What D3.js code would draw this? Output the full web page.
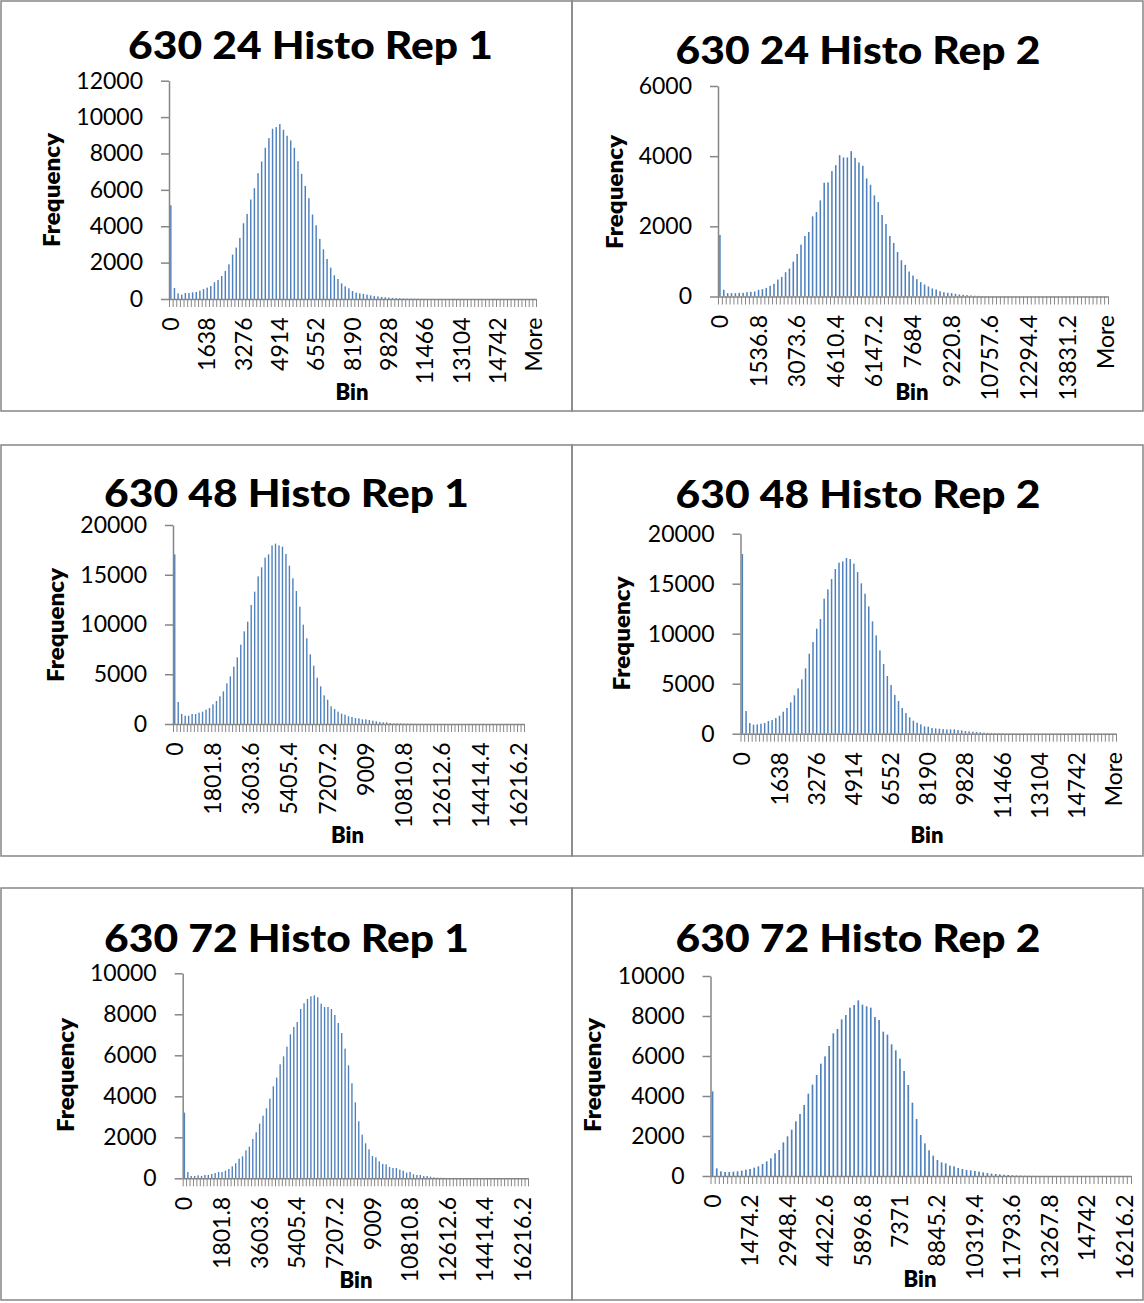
<!DOCTYPE html>
<html>
<head>
<meta charset="utf-8">
<script src="https://cdn.jsdelivr.net/npm/d3@7"></script>
<style>
  body { margin: 0; background: #fff; }
  text { font-family: Lato, "Open Sans", sans-serif; fill: #000; }
</style>
</head>
<body>
<svg id="chart" width="1144" height="1303"></svg>
<script>
// ---- Chart titles ----
const titles = [
  "630 24 Histo Rep 1", "630 24 Histo Rep 2",
  "630 48 Histo Rep 1", "630 48 Histo Rep 2",
  "630 72 Histo Rep 1", "630 72 Histo Rep 2"
];

// ---- Histogram bin widths (Excel bin upper edges are i * width, then "More") ----
const binWidths = [163.8, 153.68, 163.8, 163.8, 163.8, 163.8];
const binCount = 100;

// ---- Category labels shown on each x axis ----
const xTicks24r1 = ["0","1638","3276","4914","6552","8190","9828","11466","13104","14742","More"];
const xTicks24r2 = ["0","1536.8","3073.6","4610.4","6147.2","7684","9220.8","10757.6","12294.4","13831.2","More"];
const xTicks48r1 = ["0","1801.8","3603.6","5405.4","7207.2","9009","10810.8","12612.6","14414.4","16216.2"];
const xTicks48r2 = ["0","1638","3276","4914","6552","8190","9828","11466","13104","14742","More"];
const xTicks72r1 = ["0","1801.8","3603.6","5405.4","7207.2","9009","10810.8","12612.6","14414.4","16216.2"];
const xTicks72r2 = ["0","1474.2","2948.4","4422.6","5896.8","7371","8845.2","10319.4","11793.6","13267.8","14742","16216.2"];

// ---- Frequency axis ticks ----
const yTicks24r1 = [0, 2000, 4000, 6000, 8000, 10000, 12000];
const yTicks24r2 = [0, 2000, 4000, 6000];
const yTicks48r1 = [0, 5000, 10000, 15000, 20000];
const yTicks48r2 = [0, 5000, 10000, 15000, 20000];
const yTicks72r1 = [0, 2000, 4000, 6000, 8000, 10000];
const yTicks72r2 = [0, 2000, 4000, 6000, 8000, 10000];

// ---- Frequencies per bin (101 categories: 100 bins + "More") ----
const freq24r1 = [
  5150, 605, 312, 240, 330, 330, 367, 385, 459, 550,
  624, 716, 918, 1046, 1266, 1541, 1908, 2440, 2826, 3358,
  4165, 4679, 5468, 6092, 6918, 7560, 8312, 8845, 9358, 9450,
  9615, 9303, 8973, 8716, 8312, 7578, 6881, 6220, 5542, 4643,
  4055, 3303, 2734, 2202, 1725, 1303, 1101, 862, 697, 587,
  440, 349, 312, 280, 240, 200, 170, 140, 115, 95,
  75, 60, 48, 38, 30, 24, 18, 14, 10, 8,
  6, 5, 4, 3, 2, 2, 1, 1, 1, 0,
  0, 0, 0, 0, 0, 0, 0, 0, 0, 0,
  0, 0, 0, 0, 0, 0, 0, 0, 0, 0,
  0
];
const freq24r2 = [
  1754, 190, 95, 95, 95, 104, 104, 123, 133, 142,
  190, 209, 246, 303, 360, 483, 559, 692, 796, 995,
  1213, 1479, 1725, 1839, 2285, 2408, 2740, 3242, 3252, 3574,
  3745, 4029, 3963, 3963, 4143, 3953, 3820, 3726, 3365, 3185,
  2882, 2692, 2323, 2067, 1725, 1526, 1270, 1033, 900, 711,
  597, 495, 410, 343, 286, 229, 200, 150, 120, 105,
  95, 76, 57, 48, 38, 29, 22, 18, 12, 9,
  7, 5, 4, 3, 2, 2, 1, 1, 0, 0,
  0, 0, 0, 0, 0, 0, 0, 0, 0, 0,
  0, 0, 0, 0, 0, 0, 0, 0, 0, 0,
  0
];
const freq48r1 = [
  17050, 2211, 1005, 838, 838, 1005, 1005, 1139, 1240, 1441,
  1608, 1977, 2312, 2781, 3283, 4087, 4791, 5762, 6700, 7973,
  9313, 10285, 11960, 13300, 14841, 15745, 16717, 17052, 17956, 18124,
  17956, 17822, 17085, 15913, 14640, 13367, 11792, 9983, 8610, 7002,
  5863, 4657, 3786, 2881, 2446, 1776, 1508, 1240, 1039, 938,
  771, 704, 603, 570, 469, 469, 402, 335, 268, 201,
  168, 168, 100, 67, 67, 55, 45, 38, 30, 25,
  20, 15, 12, 9, 7, 5, 4, 3, 2, 2,
  1, 0, 0, 0, 0, 0, 0, 0, 0, 0,
  0, 0, 0, 0, 0, 0, 0, 0, 0, 0,
  0
];
const freq48r2 = [
  17960, 2267, 1067, 900, 933, 1000, 1067, 1267, 1367, 1567,
  1800, 2200, 2567, 3133, 3833, 4533, 5433, 6533, 8000, 9167,
  10500, 11467, 13500, 14433, 15467, 16467, 17100, 17233, 17567, 17467,
  17000, 16167, 15033, 14000, 12733, 11233, 9833, 8333, 6967, 5767,
  4867, 3867, 3267, 2567, 2067, 1633, 1300, 1100, 933, 733,
  700, 567, 533, 500, 467, 433, 433, 433, 367, 333,
  267, 230, 200, 170, 140, 110, 90, 75, 60, 50,
  40, 32, 25, 20, 15, 12, 10, 8, 6, 5,
  4, 3, 2, 2, 1, 0, 0, 0, 0, 0,
  0, 0, 0, 0, 0, 0, 0, 0, 0, 0,
  0
];
const freq72r1 = [
  3203, 309, 114, 114, 146, 114, 163, 163, 211, 260,
  309, 309, 374, 455, 585, 732, 959, 1073, 1366, 1545,
  1919, 2244, 2667, 3057, 3415, 3886, 4488, 4911, 5561, 5951,
  6423, 7024, 7382, 7626, 8260, 8537, 8748, 8878, 8927, 8829,
  8520, 8358, 8358, 8260, 7967, 7577, 7089, 6325, 5512, 4634,
  3707, 2780, 2130, 1707, 1415, 1089, 1024, 829, 699, 683,
  553, 504, 504, 423, 374, 276, 309, 195, 163, 163,
  114, 114, 81, 49, 33, 28, 22, 17, 12, 9,
  7, 5, 4, 3, 2, 1, 0, 0, 0, 0,
  0, 0, 0, 0, 0, 0, 0, 0, 0, 0,
  0
];
const freq72r2 = [
  4233, 383, 233, 200, 200, 217, 233, 267, 317, 350,
  417, 483, 600, 733, 883, 1133, 1300, 1683, 1983, 2317,
  2733, 3100, 3550, 4117, 4567, 5050, 5617, 5983, 6500, 7133,
  7350, 7833, 8050, 8417, 8550, 8783, 8567, 8483, 8417, 7950,
  7800, 7217, 7067, 6583, 6283, 5867, 5250, 4550, 3667, 2850,
  2050, 1633, 1283, 1017, 800, 683, 633, 517, 483, 400,
  350, 300, 280, 250, 220, 180, 150, 120, 100, 80,
  60, 50, 40, 30, 22, 16, 12, 8, 5, 4,
  3, 2, 1, 0, 0, 0, 0, 0, 0, 0,
  0, 0, 0, 0, 0, 0, 0, 0, 0, 0,
  0
];

// ---- Panel geometry (frame, plot area, and label anchors) ----
const panels = [
  { frame: [1, 1, 572, 411],   x0: 169,   x1: 536,  y0: 299,    yTop: 80.7,  titleX: 310.5, titleY: 59,
    freqX: 60,  freqY: 190,  binX: 352, binY: 400 },
  { frame: [572, 1, 1143, 411], x0: 718,  x1: 1108, y0: 296.5,  yTop: 86,    titleX: 858,   titleY: 64,
    freqX: 623, freqY: 192,  binX: 912, binY: 399.5 },
  { frame: [1, 445, 572, 856], x0: 173,   x1: 524,  y0: 724,    yTop: 525,   titleX: 286.5, titleY: 507,
    freqX: 64,  freqY: 625,  binX: 347.5, binY: 843 },
  { frame: [572, 445, 1143, 856], x0: 740.5, x1: 1116, y0: 733.7, yTop: 533.7, titleX: 858, titleY: 508,
    freqX: 630, freqY: 633.5, binX: 927, binY: 843 },
  { frame: [1, 888, 572, 1300], x0: 182.7, x1: 528,  y0: 1178.3, yTop: 973.3, titleX: 286.5, titleY: 952,
    freqX: 74,  freqY: 1075, binX: 356, binY: 1287.7 },
  { frame: [572, 888, 1143, 1300], x0: 710.5, x1: 1131, y0: 1176, yTop: 976, titleX: 858, titleY: 952,
    freqX: 601, freqY: 1075, binX: 920, binY: 1286.7 }
];

const series = [freq24r1, freq24r2, freq48r1, freq48r2, freq72r1, freq72r2];
const xTickSets = [xTicks24r1, xTicks24r2, xTicks48r1, xTicks48r2, xTicks72r1, xTicks72r2];
const yTickSets = [yTicks24r1, yTicks24r2, yTicks48r1, yTicks48r2, yTicks72r1, yTicks72r2];

const AXIS = "#868686";
const BAR = "#4F81BD";

function binLabels(width) {
  const labels = d3.range(binCount).map(i => String(+(i * width).toFixed(4)));
  labels.push("More");
  return labels;
}

const svg = d3.select("#chart");

panels.forEach((p, k) => {
  const values = series[k];
  const cats = binLabels(binWidths[k]);
  const yTicks = yTickSets[k];
  const g = svg.append("g");

  // chart frame
  const [fx0, fy0, fx1, fy1] = p.frame;
  g.append("rect")
    .attr("x", fx0).attr("y", fy0)
    .attr("width", fx1 - fx0).attr("height", fy1 - fy0)
    .attr("fill", "none").attr("stroke", AXIS).attr("stroke-width", 1.5);

  // scales
  const x = d3.scaleBand().domain(cats).range([p.x0, p.x1])
    .paddingInner(0.6).paddingOuter(0.3);
  const xEdges = d3.scaleLinear().domain([0, cats.length]).range([p.x0, p.x1]);
  const y = d3.scaleLinear().domain([0, d3.max(yTicks)]).range([p.y0, p.yTop]);

  // bars
  g.append("g").selectAll("rect")
    .data(values.map((v, i) => ({ cat: cats[i], v })))
    .join("rect")
    .attr("x", d => x(d.cat))
    .attr("width", x.bandwidth())
    .attr("y", d => y(d.v))
    .attr("height", d => y(0) - y(d.v))
    .attr("fill", BAR);

  // y axis
  const yAxis = g.append("g")
    .attr("transform", `translate(${p.x0},0)`)
    .call(d3.axisLeft(y).tickValues(yTicks).tickSize(8).tickSizeOuter(0).tickPadding(18)
      .tickFormat(d3.format("d")));
  yAxis.select(".domain").attr("stroke", AXIS).attr("stroke-width", 1.5);
  yAxis.selectAll(".tick line").attr("stroke", AXIS).attr("stroke-width", 1.5);
  yAxis.selectAll(".tick text")
    .style("font-family", "Lato, 'Open Sans', sans-serif")
    .style("font-size", "23px").attr("fill", "#000");

  // x axis: comb of category boundary ticks
  const comb = g.append("g")
    .attr("transform", `translate(0,${p.y0})`)
    .call(d3.axisBottom(xEdges).tickValues(d3.range(cats.length + 1))
      .tickSize(8).tickSizeOuter(0).tickFormat(""));
  comb.select(".domain").attr("stroke", AXIS).attr("stroke-width", 1.5);
  comb.selectAll(".tick line").attr("stroke", AXIS).attr("stroke-width", 1);

  // x axis: rotated bin labels
  const xLab = g.append("g")
    .attr("transform", `translate(0,${p.y0})`)
    .call(d3.axisBottom(x).tickValues(xTickSets[k]).tickSize(0).tickSizeOuter(0));
  xLab.select(".domain").remove();
  xLab.selectAll(".tick text")
    .attr("transform", "rotate(-90)")
    .attr("x", -18.5).attr("y", 0).attr("dy", "0.35em")
    .attr("text-anchor", "end")
    .style("font-family", "Lato, 'Open Sans', sans-serif")
    .style("font-size", "23px").attr("fill", "#000");

  // title
  g.append("text")
    .attr("x", p.titleX).attr("y", p.titleY)
    .attr("text-anchor", "middle")
    .attr("textLength", 365).attr("lengthAdjust", "spacingAndGlyphs")
    .style("font-size", "38px").style("font-weight", 900)
    .text(titles[k]);

  // axis titles
  g.append("text")
    .attr("transform", `translate(${p.freqX},${p.freqY}) rotate(-90)`)
    .attr("text-anchor", "middle")
    .attr("textLength", 114).attr("lengthAdjust", "spacingAndGlyphs")
    .style("font-size", "22px").style("font-weight", 800)
    .text("Frequency");

  g.append("text")
    .attr("x", p.binX).attr("y", p.binY)
    .attr("text-anchor", "middle")
    .style("font-size", "22px").style("font-weight", 800)
    .text("Bin");
});
</script>
</body>
</html>
